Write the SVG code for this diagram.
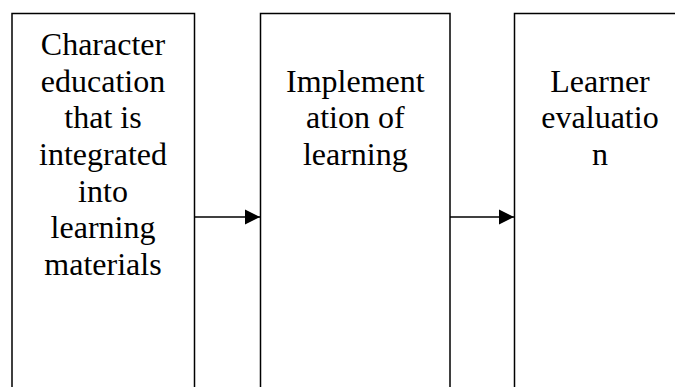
<svg xmlns="http://www.w3.org/2000/svg" width="675" height="387" viewBox="0 0 675 387">
  <style>
    .box { fill: #ffffff; stroke: #000000; stroke-width: 1.5; }
    .label { font-family: "Liberation Serif", "Times New Roman", "DejaVu Serif", serif; font-size: 32px; fill: #000000; text-anchor: middle; }
    .link { stroke: #000000; stroke-width: 1.5; fill: none; }
  </style>
  <defs>
    <marker id="arrowhead" markerUnits="userSpaceOnUse" markerWidth="16" markerHeight="16" refX="15" refY="8" orient="auto">
      <path d="M0,0.5 L15,8 L0,15.5 Z" fill="#000000"/>
    </marker>
  </defs>
  <rect width="675" height="387" fill="#ffffff"/>

  <g id="node-character-education" font-family="Liberation Serif, serif">
    <rect class="box" x="12" y="13.5" width="182.5" height="380"/>
    <text class="label" x="103" y="55">Character</text>
    <text class="label" x="103" y="91.7">education</text>
    <text class="label" x="103" y="128.3">that is</text>
    <text class="label" x="103" y="165">integrated</text>
    <text class="label" x="103" y="201.7">into</text>
    <text class="label" x="103" y="238.3">learning</text>
    <text class="label" x="103" y="275">materials</text>
  </g>

  <g id="node-implementation" font-family="Liberation Serif, serif">
    <rect class="box" x="260.5" y="13.5" width="189.5" height="380"/>
    <text class="label" x="355.3" y="91.7">Implement</text>
    <text class="label" x="355.3" y="128.3">ation of</text>
    <text class="label" x="355.3" y="165">learning</text>
  </g>

  <g id="node-evaluation" font-family="Liberation Serif, serif">
    <rect class="box" x="514.5" y="13.5" width="175" height="380"/>
    <text class="label" x="600" y="91.7">Learner</text>
    <text class="label" x="600" y="128.3">evaluatio</text>
    <text class="label" x="600" y="165">n</text>
  </g>

  <g id="connectors">
    <line class="link" x1="194.5" y1="217" x2="260" y2="217" marker-end="url(#arrowhead)"/>
    <line class="link" x1="450" y1="217" x2="514" y2="217" marker-end="url(#arrowhead)"/>
  </g>
</svg>
